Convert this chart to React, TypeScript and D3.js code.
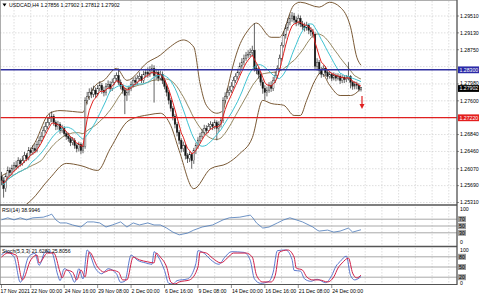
import React from "react";
import * as d3 from "d3";

// ---- data (prices in 1e-4 units) ----
const firstOpen = 12590;
const closes = [
  12580,12562,12589,12603,12598,12607,12614,12612,12625,12619,
  12625,12637,12630,12648,12643,12652,12648,12662,12671,12680,
  12693,12702,12711,12720,12725,12711,12702,12707,12693,12698,
  12686,12680,12675,12666,12671,12659,12652,12662,12648,12657,
  12761,12770,12779,12775,12784,12775,12788,12795,12784,12779,
  12793,12797,12788,12802,12811,12817,12802,12793,12784,12772,
  12779,12788,12797,12806,12802,12811,12815,12806,12820,12824,
  12820,12829,12833,12817,12824,12811,12820,12806,12793,12779,
  12761,12743,12725,12707,12689,12671,12652,12659,12637,12630,
  12639,12625,12648,12659,12671,12680,12689,12698,12693,12702,
  12707,12702,12711,12698,12707,12716,12761,12770,12779,12784,
  12793,12806,12815,12824,12838,12847,12856,12863,12865,12869,
  12874,12833,12829,12820,12802,12788,12779,12784,12795,12788,
  12806,12817,12833,12856,12885,12908,12924,12937,12946,12951,
  12942,12937,12946,12933,12928,12924,12930,12919,12915,12910,
  12838,12847,12829,12820,12833,12824,12815,12820,12811,12817,
  12811,12815,12806,12813,12808,12811,12815,12802,12793,12797,
  12795,12786,12790,
];
const highs = [
  12600,12588,12595,12612,12610,12616,12622,12625,12633,12630,
  12636,12645,12642,12656,12655,12660,12664,12670,12680,12690,
  12702,12712,12722,12731,12736,12730,12716,12715,12712,12706,
  12703,12692,12688,12680,12678,12676,12664,12668,12666,12664,
  12768,12780,12788,12790,12794,12790,12796,12804,12800,12792,
  12800,12806,12804,12810,12818,12824,12833,12808,12798,12790,
  12786,12794,12804,12812,12815,12818,12824,12820,12828,12832,
  12835,12838,12842,12840,12832,12830,12828,12826,12812,12798,
  12784,12766,12748,12730,12712,12694,12676,12668,12664,12642,
  12646,12644,12654,12666,12678,12688,12697,12706,12705,12710,
  12714,12712,12718,12716,12714,12722,12768,12779,12788,12793,
  12802,12814,12822,12832,12846,12856,12864,12870,12874,12878,
  12884,12935,12842,12836,12826,12808,12795,12792,12802,12804,
  12814,12826,12840,12864,12892,12916,12932,12946,12955,12960,
  12958,12950,12954,12952,12940,12936,12938,12934,12926,12922,
  12914,12856,12852,12836,12840,12838,12830,12826,12824,12824,
  12822,12822,12820,12818,12818,12818,12847,12818,12806,12804,
  12803,12800,12790,
];
const lows = [
  12570,12542,12555,12584,12590,12592,12600,12605,12608,12612,
  12614,12620,12624,12626,12636,12638,12642,12644,12656,12666,
  12675,12688,12696,12705,12712,12704,12694,12695,12686,12688,
  12680,12672,12668,12658,12660,12652,12644,12646,12640,12642,
  12652,12752,12762,12766,12768,12766,12770,12782,12776,12770,
  12772,12786,12780,12782,12796,12804,12796,12786,12776,12730,
  12760,12772,12782,12790,12795,12796,12804,12800,12800,12812,
  12812,12814,12820,12756,12808,12804,12806,12798,12786,12770,
  12752,12736,12716,12698,12680,12662,12644,12645,12628,12620,
  12622,12607,12618,12640,12652,12664,12674,12682,12686,12688,
  12696,12694,12696,12671,12690,12700,12710,12754,12764,12772,
  12778,12788,12800,12808,12818,12832,12840,12850,12856,12858,
  12862,12826,12820,12810,12794,12776,12762,12770,12778,12780,
  12782,12800,12810,12828,12850,12880,12900,12918,12930,12938,
  12934,12928,12930,12926,12920,12916,12918,12910,12906,12902,
  12830,12828,12820,12812,12814,12816,12808,12810,12804,12806,
  12804,12806,12798,12800,12800,12802,12806,12788,12785,12786,
  12786,12781,12781,
];

const upperIdx = [0,9,16,23,28,34,39,41,45,49,55,60,70,76,80,87,92,95,98,103,106,108,113,118,122,129,133,140,143,152,157,162,167,170,172];
const upperVal = [12591,12621,12666,12732,12738,12736,12734,12761,12795,12806,12833,12806,12847,12863,12879,12897,12881,12799,12750,12732,12738,12784,12874,12919,12935,12903,12903,12976,12982,12971,12982,12971,12926,12858,12840];
const lowerIdx = [0,7,14,23,31,38,46,52,61,71,76,81,85,92,100,108,114,120,125,129,135,140,143,146,150,153,157,162,167,172];
const lowerVal = [12501,12512,12535,12585,12619,12614,12603,12652,12716,12729,12732,12704,12648,12562,12607,12619,12641,12677,12761,12754,12750,12727,12727,12761,12806,12824,12795,12772,12772,12788];

const rsiIdx = [0,3,6,9,12,15,20,23,24,26,28,31,34,38,41,44,47,50,53,57,60,63,66,70,73,76,79,82,85,89,92,96,101,106,109,114,119,120,122,125,128,132,135,138,141,144,149,151,152,156,159,162,166,168,172];
const rsiVal = [68,74,68,74,68,74,76,82,85,68,59,59,53,47,62,62,59,47,53,62,47,59,53,59,53,53,44,32,24,29,38,47,53,68,74,76,82,76,59,44,47,59,68,74,68,62,47,38,35,38,32,35,44,32,39];

const stochDIdx = [0,3,7,10,14,17,18,22,25,28,29,31,34,36,38,40,42,46,49,52,56,58,60,63,66,70,73,74,76,79,81,83,85,90,94,95,98,101,105,108,111,117,120,122,125,129,131,133,137,140,141,144,146,149,152,156,159,161,163,166,168,170,172];
const stochDVal = [79,91,85,12,71,85,62,91,91,35,18,41,35,12,41,21,94,50,35,41,35,12,12,79,71,65,62,91,79,50,6,0,6,12,50,94,91,76,62,76,91,91,79,26,6,6,26,94,100,79,47,41,21,12,12,6,21,47,62,76,32,18,26];
const stochKIdx = [0,2,6,9,13,16,18,21,24,27,28,30,33,35,37,39,41,45,48,51,55,57,59,62,65,69,72,73,75,78,80,82,84,89,93,94,97,100,104,107,110,116,119,121,124,128,130,132,136,139,140,143,145,148,151,155,158,160,162,165,167,169,172];
const stochKVal = [85,95,80,5,80,90,55,95,93,25,10,45,30,5,45,15,100,45,30,45,30,5,8,85,70,62,58,95,80,40,2,0,10,15,60,98,90,72,58,80,95,93,70,15,2,8,35,98,100,72,40,38,15,8,14,4,25,52,66,82,25,12,22];

// axis labels shown on the price scale (1.28370 and 1.27220 are covered by level boxes)
const priceTicks = ["1.29510","1.29130","1.28750","1.27980","1.27600","1.26840","1.26460","1.26070","1.25690","1.25310"];
const gridPrices = [1.2951,1.2913,1.2875,1.2837,1.2798,1.276,1.2722,1.2684,1.2646,1.2607,1.2569,1.2531];
const timeLabels = ["17 Nov 2021","22 Nov 00:00","24 Nov 16:00","29 Nov 08:00","2 Dec 00:00","6 Dec 16:00","9 Dec 08:00","14 Dec 00:00","16 Dec 16:00","21 Dec 08:00","24 Dec 00:00"];
const timeLabelIdx = [0,14,30,46,62,78,94,110,126,142,158];

const blueLevel = 1.283;
const redLevel = 1.2722;
const lastPrice = 1.27902;

// ---- layout ----
const W = 480, H = 296;
const AX = 457;
const FONT = "Liberation Sans, Arial, sans-serif";
const FS = 5.2;

const x = d3.scaleLinear().domain([0, 172]).range([1.5, 361]);
const yP = d3.scaleLinear().domain([1.2531, 1.2951]).range([202.5, 16]);
const yR = d3.scaleLinear().domain([0, 100]).range([243, 209]);
const yS = d3.scaleLinear().domain([0, 100]).range([284, 250]);

const P = (v: number) => v / 10000;

function ema(arr: number[], n: number) {
  const k = 2 / (n + 1);
  const out: number[] = [];
  arr.forEach((v, i) => out.push(i === 0 ? v : v * k + out[i - 1] * (1 - k)));
  return out;
}
function sma(arr: number[], n: number) {
  return arr.map((_, i) => {
    const s = arr.slice(Math.max(0, i - n + 1), i + 1);
    return d3.mean(s) as number;
  });
}

export default function App() {
  const c = closes.map(P);
  const o = c.map((_, i) => (i === 0 ? P(firstOpen) : c[i - 1]));
  const h = highs.map(P);
  const l = lows.map(P);
  const redMA = ema(c, 5);
  const cyanMA = sma(c, 13);
  const midMA = sma(c, 20);

  const lineP = d3.line<number>().x((_, i) => x(i)).y((v) => yP(v));
  const bandLine = (idx: number[], vals: number[]) =>
    d3.line<number>().x((_, i) => x(idx[i])).y((v) => yP(P(v))).curve(d3.curveMonotoneX)(vals) || "";
  const subLine = (idx: number[], vals: number[], ys: d3.ScaleLinear<number, number>, curve: d3.CurveFactory) =>
    d3.line<number>().x((_, i) => x(idx[i])).y((v) => ys(v)).curve(curve)(vals) || "";

  const gridX: number[] = [];
  for (let i = 6; x(i) < AX; i += 8) gridX.push(x(i));

  const txt = { fontFamily: FONT, fontSize: FS, fill: "#000" } as const;

  return (
    <svg width={W} height={H} style={{ position: "fixed", left: 0, top: 0, background: "#fff" }}>
      <defs>
        <clipPath id="mainClip"><rect x={0} y={1} width={AX} height={203} /></clipPath>
        <clipPath id="rsiClip"><rect x={0} y={207} width={AX} height={38} /></clipPath>
        <clipPath id="stClip"><rect x={0} y={248} width={AX} height={36} /></clipPath>
      </defs>
      <rect x={0} y={0} width={W} height={H} fill="#fff" />
      {/* grids */}
      <g stroke="#c8c8c8" strokeWidth={0.6} strokeDasharray="1.5,1.5">
        {gridX.map((gx, i) => (
          <g key={i}>
            <line x1={gx} x2={gx} y1={1} y2={204} />
            <line x1={gx} x2={gx} y1={207} y2={245} />
            <line x1={gx} x2={gx} y1={248} y2={284} />
          </g>
        ))}
        {gridPrices.map((t, i) => (
          <line key={i} x1={0} x2={AX} y1={yP(t)} y2={yP(t)} />
        ))}
      </g>
      {/* RSI / stoch levels */}
      <g stroke="#a8a8a8" strokeWidth={1}>
        {[70, 50, 30].map((v) => <line key={v} x1={0} x2={AX} y1={yR(v)} y2={yR(v)} />)}
        {[80, 50, 20].map((v) => <line key={v} x1={0} x2={AX} y1={yS(v)} y2={yS(v)} />)}
      </g>

      {/* main plot */}
      <g clipPath="url(#mainClip)">
        <path d={bandLine(upperIdx, upperVal)} fill="none" stroke="#7a5a36" strokeWidth={1} />
        <path d={bandLine(lowerIdx, lowerVal)} fill="none" stroke="#7a5a36" strokeWidth={1} />
        <path d={lineP(midMA) || ""} fill="none" stroke="#7a6a3a" strokeWidth={0.8} />
        {c.map((cv, i) => {
          const up = cv >= o[i];
          const top = yP(Math.max(cv, o[i]));
          const bot = yP(Math.min(cv, o[i]));
          return (
            <g key={i}>
              <line x1={x(i)} x2={x(i)} y1={yP(h[i])} y2={yP(l[i])} stroke="#222" strokeWidth={0.7} />
              <rect x={x(i) - 0.8} y={top} width={1.6} height={Math.max(0.6, bot - top)}
                fill={up ? "#fff" : "#111"} stroke="#222" strokeWidth={0.4} />
            </g>
          );
        })}
        <path d={lineP(cyanMA) || ""} fill="none" stroke="#3ec3d2" strokeWidth={1} />
        <path d={lineP(redMA) || ""} fill="none" stroke="#e0201e" strokeWidth={1} />
        <line x1={0} x2={AX} y1={yP(blueLevel)} y2={yP(blueLevel)} stroke="#3030a0" strokeWidth={1.5} />
        <line x1={0} x2={AX} y1={yP(redLevel)} y2={yP(redLevel)} stroke="#e02020" strokeWidth={1.2} />
        <line x1={x(172) + 1} x2={x(172) + 1} y1={96} y2={106} stroke="#e02020" strokeWidth={1.2} />
        <path d={`M${x(172) - 1.5},104 L${x(172) + 3.5},104 L${x(172) + 1},109 Z`} fill="#e02020" />
      </g>

      {/* RSI */}
      <g clipPath="url(#rsiClip)">
        <path d={subLine(rsiIdx, rsiVal, yR, d3.curveLinear)} fill="none" stroke="#4a78b8" strokeWidth={0.8} />
      </g>
      {/* Stoch */}
      <g clipPath="url(#stClip)">
        <path d={subLine(stochKIdx, stochKVal, yS, d3.curveMonotoneX)} fill="none" stroke="#4a6ac8" strokeWidth={0.9} />
        <path d={subLine(stochDIdx, stochDVal, yS, d3.curveMonotoneX)} fill="none" stroke="#d02048" strokeWidth={1} />
      </g>

      {/* frames */}
      <g fill="none">
        <rect x={0.5} y={0.5} width={AX - 0.5} height={H - 12} stroke="#9a9a9a" strokeWidth={0.8} />
        <line x1={0} x2={AX} y1={205} y2={205} stroke="#555" strokeWidth={1.6} />
        <line x1={0} x2={AX} y1={246.5} y2={246.5} stroke="#555" strokeWidth={1.6} />
        <line x1={0} x2={AX} y1={284.5} y2={284.5} stroke="#555" strokeWidth={1} />
        <line x1={AX} x2={AX} y1={0} y2={285} stroke="#444" strokeWidth={1} />
      </g>

      {/* price axis */}
      {priceTicks.map((t) => {
        const yy = yP(Number(t));
        const shift = t === "1.27980" ? -1.2 : 0;
        return (
          <g key={t}>
            <line x1={AX} x2={AX + 2} y1={yy} y2={yy} stroke="#444" strokeWidth={0.6} />
            <text x={AX + 3} y={yy + 1.8 + shift} style={txt}>{t}</text>
          </g>
        );
      })}
      {[
        { v: blueLevel, label: "1.28300", fill: "#2a2aa8", dy: 0 },
        { v: lastPrice, label: "1.27902", fill: "#000", dy: 1 },
        { v: redLevel, label: "1.27220", fill: "#e41e1e", dy: 0 },
      ].map((b) => (
        <g key={b.label}>
          <rect x={AX + 1} y={yP(b.v) - 3.3 + b.dy} width={21} height={6.8} fill={b.fill} />
          <text x={AX + 2.5} y={yP(b.v) + 1.9 + b.dy} style={{ ...txt, fill: "#fff" }}>{b.label}</text>
        </g>
      ))}

      {/* RSI axis */}
      <text x={AX + 3} y={yR(100) + 2} style={txt}>100</text>
      <text x={AX + 3} y={yR(0) + 1} style={txt}>0</text>
      {[70, 50, 30].map((v) => (
        <g key={v}>
          <rect x={AX + 1} y={yR(v) - 3} width={8} height={6} fill="#9c9c9c" />
          <text x={AX + 2} y={yR(v) + 1.9} style={txt}>{v}</text>
        </g>
      ))}
      {/* Stoch axis */}
      <text x={AX + 3} y={yS(100) + 2} style={txt}>100</text>
      <text x={AX + 3} y={yS(0) + 1} style={txt}>0</text>
      {[80, 50, 20].map((v) => (
        <g key={v}>
          <rect x={AX + 1} y={yS(v) - 3} width={8} height={6} fill="#9c9c9c" />
          <text x={AX + 2} y={yS(v) + 1.9} style={txt}>{v}</text>
        </g>
      ))}

      {/* time axis */}
      {timeLabelIdx.map((ti, i) => (
        <g key={i}>
          <line x1={x(ti)} x2={x(ti)} y1={285} y2={288} stroke="#444" strokeWidth={0.6} />
          <text x={x(ti) + (i === 0 ? -1 : 0.5)} y={293} style={txt}>{timeLabels[i]}</text>
        </g>
      ))}

      {/* titles */}
      <path d="M2.5,3.5 L6.5,3.5 L4.5,6.5 Z" fill="#000" />
      <text x={9} y={7} style={txt}>USDCAD,H4  1.27856 1.27902 1.27812 1.27902</text>
      <text x={2} y={212} style={txt}>RSI(14) 38.9946</text>
      <text x={2} y={253} style={txt}>Stoch(5,3,3) 21.6280 25.8056</text>
    </svg>
  );
}
